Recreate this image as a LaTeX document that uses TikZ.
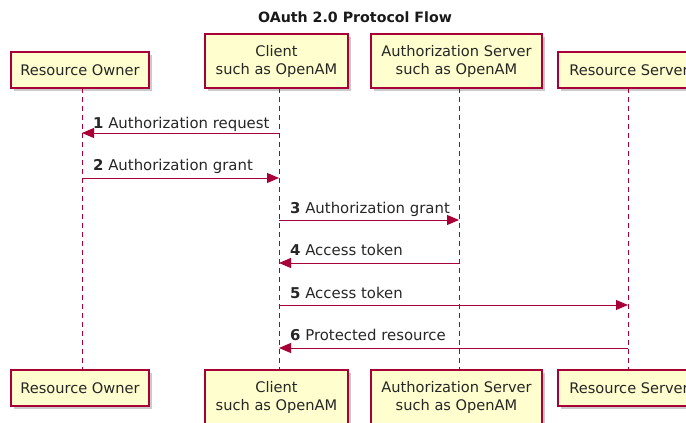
\documentclass[tikz,border=0pt]{standalone}
\usepackage{fontspec}
\setmainfont{DejaVu Sans}
\usetikzlibrary{arrows.meta,shadows}
\definecolor{puborder}{HTML}{A80036}
\definecolor{pufill}{HTML}{FEFECE}
\tikzset{
  part/.style={draw=puborder, fill=pufill, line width=1.2pt, align=center,
    font=\fontsize{14.6}{18}\selectfont, text=black!85, inner sep=0pt,
    drop shadow={shadow xshift=3pt, shadow yshift=-3pt, fill=black!35, opacity=0.6}},
  life/.style={draw=puborder, line width=0.8pt, dash pattern=on 5pt off 4pt},
  msg/.style={draw=puborder, line width=1pt, -{Triangle[length=12pt,width=10pt]}},
  lbl/.style={anchor=base west, font=\fontsize{14.9}{18}\selectfont, text=black!85, inner sep=0pt},
}
\begin{document}
\begin{tikzpicture}[x=1pt,y=-1pt]
\useasboundingbox (0,0) rectangle (686,423);
\clip (0,0) rectangle (686,423);
\node[font=\bfseries\fontsize{14.2}{17}\selectfont, text=black!90] (title) at (355,17) {OAuth 2.0 Protocol Flow};
% top participants
\node[part, minimum width=138pt, minimum height=36pt] (ro) at (80,70) {Resource Owner};
\node[part, minimum width=143pt, minimum height=54pt] (cl) at (276.5,61) {Client\\such as OpenAM};
\node[part, minimum width=171pt, minimum height=54pt] (as) at (456.5,61) {Authorization Server\\such as OpenAM};
\node[part, minimum width=142pt, minimum height=36pt] (rs) at (629,70) {Resource Server};
% bottom participants
\node[part, minimum width=138pt, minimum height=36pt] (ro2) at (80,388) {Resource Owner};
\node[part, minimum width=143pt, minimum height=54pt] (cl2) at (276.5,397) {Client\\such as OpenAM};
\node[part, minimum width=171pt, minimum height=54pt] (as2) at (456.5,397) {Authorization Server\\such as OpenAM};
\node[part, minimum width=142pt, minimum height=36pt] (rs2) at (629,388) {Resource Server};
% lifelines
\coordinate (l1t) at (82,88); \coordinate (l1b) at (82,370);
\coordinate (l2t) at (279,88); \coordinate (l2b) at (279,370);
\coordinate (l3t) at (459,88); \coordinate (l3b) at (459,370);
\coordinate (l4t) at (628,88); \coordinate (l4b) at (628,370);
\draw[life] (l1t) -- (l1b);
\draw[life] (l2t) -- (l2b);
\draw[life] (l3t) -- (l3b);
\draw[life] (l4t) -- (l4b);
% messages
\coordinate (m1a) at (279,133); \coordinate (m1b) at (82,133);
\draw[msg] (m1a) -- (m1b);
\node[lbl] (t1) at (93,128) {\textbf{1} Authorization request};
\coordinate (m2a) at (82,178); \coordinate (m2b) at (279,178);
\draw[msg] (m2a) -- (m2b);
\node[lbl] (t2) at (93,170) {\textbf{2} Authorization grant};
\coordinate (m3a) at (279,220); \coordinate (m3b) at (459,220);
\draw[msg] (m3a) -- (m3b);
\node[lbl] (t3) at (290,213) {\textbf{3} Authorization grant};
\coordinate (m4a) at (459,263); \coordinate (m4b) at (279,263);
\draw[msg] (m4a) -- (m4b);
\node[lbl] (t4) at (290,255) {\textbf{4} Access token};
\coordinate (m5a) at (279,305); \coordinate (m5b) at (628,305);
\draw[msg] (m5a) -- (m5b);
\node[lbl] (t5) at (290,298) {\textbf{5} Access token};
\coordinate (m6a) at (628,348); \coordinate (m6b) at (279,348);
\draw[msg] (m6a) -- (m6b);
\node[lbl] (t6) at (290,340) {\textbf{6} Protected resource};
\end{tikzpicture}
\end{document}
